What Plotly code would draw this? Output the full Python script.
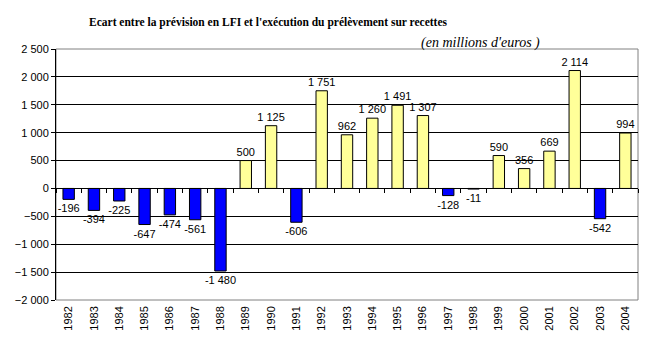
import plotly.graph_objects as go

years = [str(y) for y in range(1982, 2005)]
values = [-196, -394, -225, -647, -474, -561, -1480, 500, 1125, -606, 1751, 962,
          1260, 1491, 1307, -128, -11, 590, 356, 669, 2114, -542, 994]
ytick_vals = [-2000, -1500, -1000, -500, 0, 500, 1000, 1500, 2000, 2500]

colors = ["#0000FF" if v < 0 else "#FFFF99" for v in values]
num_font = dict(family="Liberation Sans", size=11, color="black")
serif = "Liberation Serif"

fig = go.Figure()
fig.add_trace(go.Bar(
    x=years, y=values, marker=dict(color=colors, line=dict(color="black", width=1)),
    width=0.45, text=values, texttemplate="%{y:,}", textposition="outside",
    textfont=num_font, outsidetextfont=num_font, constraintext="none",
    cliponaxis=False, showlegend=False, hoverinfo="x+y"))
# invisible trace to carry the zero-crossing category axis with tick marks
fig.add_trace(go.Bar(x=years, y=[0]*len(years), xaxis="x2", yaxis="y",
                     marker=dict(color="rgba(0,0,0,0)"), showlegend=False, hoverinfo="skip"))

ymin, ymax = -2000, 2500
zero_pos = (0 - ymin) / (ymax - ymin)

fig.update_layout(
    width=656, height=343, margin=dict(l=56, r=18, t=49, b=40),
    paper_bgcolor="white", plot_bgcolor="white", separators=", ",
    bargap=0.55, uniformtext=dict(minsize=11, mode="show"),
    xaxis=dict(type="category", tickangle=-90, showgrid=False, ticks="",
               tickfont=num_font, showline=False, zeroline=False, ticklabelstandoff=3),
    xaxis2=dict(type="category", overlaying="x", anchor="free", position=zero_pos,
                side="bottom", showticklabels=False, ticks="outside", ticklen=4,
                tickcolor="black", tickson="boundaries", showline=True, linecolor="black",
                linewidth=1, showgrid=False, zeroline=False, matches="x"),
    yaxis=dict(range=[ymin, ymax], tickvals=ytick_vals, tickformat=",",
               showgrid=True, gridcolor="black", gridwidth=1, zeroline=False,
               showline=True, linecolor="black", ticks="outside", ticklen=4,
               tickcolor="black", tickfont=num_font),
    shapes=[dict(type="rect", xref="paper", yref="paper", x0=0, x1=1, y0=0, y1=1,
                 line=dict(color="#808080", width=1), layer="below")],
    annotations=[
        dict(text="<b>Ecart entre la prévision en LFI et l'exécution du prélèvement sur recettes</b>",
             xref="paper", yref="paper", x=(268-56)/582, y=1, yshift=35, showarrow=False,
             font=dict(family=serif, size=11.5, color="black")),
        dict(text="<i>(en millions d'euros )</i>",
             xref="paper", yref="paper", x=(542-56)/582, y=1, yshift=16, showarrow=False,
             font=dict(family=serif, size=14, color="black")),
    ],
)

fig.write_html("out.html")
